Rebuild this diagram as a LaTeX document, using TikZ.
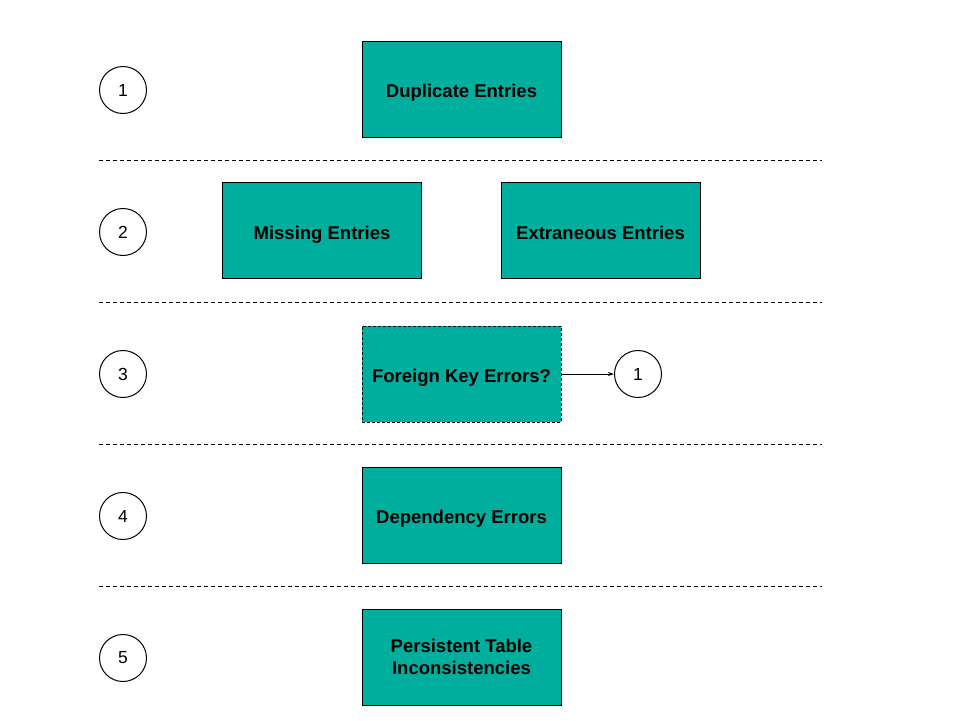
\documentclass[tikz,border=0pt]{standalone}
\usepackage{fontspec}
\setmainfont{Liberation Sans}
\usetikzlibrary{arrows.meta}
\definecolor{tealbox}{RGB}{0,174,157}
\tikzset{
  box/.style={draw=black, line width=1pt, fill=tealbox, minimum width=199pt, minimum height=96pt, inner sep=0pt, font=\fontsize{18.5}{22}\selectfont\bfseries, align=center, text=black},
  one/.style={text height=17pt, text depth=0pt},
  num/.style={draw=black, line width=1pt, circle, minimum size=47pt, inner sep=0pt, font=\fontsize{17.5}{20}\selectfont},
  sep/.style={line width=1pt, dash pattern=on 4pt off 3pt},
}
\begin{document}
\begin{tikzpicture}[x=1pt,y=-1pt]
\useasboundingbox (0,0) rectangle (960,720);
\node[box, one] (dup) at (461.5,89) {Duplicate Entries};
\node[box, one] (mis) at (322,230.5) {Missing Entries};
\node[box, one] (ext) at (600.5,230.5) {Extraneous Entries};
\node[box, one, dash pattern=on 3pt off 2pt] (fk) at (461.5,374) {Foreign Key Errors?};
\node[box, one] (dep) at (461.5,515) {Dependency Errors};
\node[box] (per) at (461.5,657) {Persistent Table\\Inconsistencies};
\node[num] (c1) at (123,90) {1};
\node[num] (c2) at (123,232) {2};
\node[num] (c3) at (123,374) {3};
\node[num] (c4) at (123,516) {4};
\node[num] (c5) at (123,658) {5};
\node[num] (cr) at (638,374) {1};
\coordinate (s1a) at (99,160); \coordinate (s1b) at (822,160);
\coordinate (s2a) at (99,302); \coordinate (s2b) at (822,302);
\coordinate (s3a) at (99,444); \coordinate (s3b) at (822,444);
\coordinate (s4a) at (99,586); \coordinate (s4b) at (822,586);
\draw[sep] (s1a) -- (s1b);
\draw[sep] (s2a) -- (s2b);
\draw[sep] (s3a) -- (s3b);
\draw[sep] (s4a) -- (s4b);
\draw[line width=1pt, -{Stealth[length=6pt,width=4pt]}] (fk.east) -- (cr.west);
\end{tikzpicture}
\end{document}
